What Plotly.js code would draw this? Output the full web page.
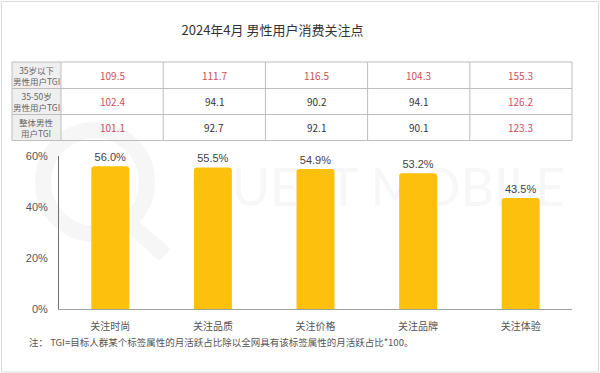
<!DOCTYPE html>
<html>
<head>
<meta charset="utf-8">
<script src="https://cdn.plot.ly/plotly-3.0.1.min.js"></script>
<style>
html,body{margin:0;padding:0;background:#fff;}
#chart{width:600px;height:373px;}
</style>
</head>
<body>
<div id="chart"></div>
<script>
// ---- data ----
var categories = ['关注时尚', '关注品质', '关注价格', '关注品牌', '关注体验'];
var shareValues = [56.0, 55.5, 54.9, 53.2, 43.5];
var rowLabels = ['35岁以下<br>男性用户TGI', '35-50岁<br>男性用户TGI', '整体男性<br>用户TGI'];
var tgiUnder35 = [109.5, 111.7, 116.5, 104.3, 155.3];
var tgi35to50 = [102.4, 94.1, 90.2, 94.1, 126.2];
var tgiAll = [101.1, 92.7, 92.1, 90.1, 123.3];
var yTickVals = [0, 20, 40, 60];
var yTickText = ['0%', '20%', '40%', '60%'];
var titleText = '2024年4月 男性用户消费关注点';
var noteText = '注： TGI=目标人群某个标签属性的月活跃占比除以全网具有该标签属性的月活跃占比*100。';

// ---- layout helpers (pixel -> paper) ----
var W = 600, H = 373;
var mL = 59, mR = 28, mT = 156, mB = 64;
var pw = W - mL - mR, ph = H - mT - mB;
function px(x) { return (x - mL) / pw; }
function py(y) { return (H - mB - y) / ph; }

var font = '"Noto Sans CJK SC", "Noto Sans", sans-serif';
var shapes = [];
var annotations = [];

// outer frame
shapes.push({type:'rect', xref:'paper', yref:'paper', x0:px(1.5), x1:px(598.5), y0:py(372), y1:py(1.5),
  line:{color:'#DADADA', width:1}, layer:'below'});

// watermark (drawn below the bars)
var wmSvg = '<svg xmlns="http://www.w3.org/2000/svg" width="560" height="140" viewBox="0 0 560 140">' +
  '<circle cx="70" cy="62" r="52" fill="none" stroke="#F6F6F6" stroke-width="16"/>' +
  '<path d="M100 100 L140 135" stroke="#F6F6F6" stroke-width="16"/>' +
  '<text x="165" y="86" font-family="Lato, sans-serif" font-size="52" fill="#F7F7F7">QUEST MOBILE</text>' +
  '</svg>';
var wmImages = [{source:'data:image/svg+xml;charset=utf-8,' + encodeURIComponent(wmSvg),
  xref:'paper', yref:'paper', x:px(25), y:py(120), sizex:560/pw, sizey:140/ph,
  xanchor:'left', yanchor:'top', sizing:'stretch', layer:'below'}];

// table
var tblLeft = 12, tblRight = 572, labelRight = 61;
var rowEdges = [62, 88.5, 114.5, 140.5];
var tableRows = [tgiUnder35, tgi35to50, tgiAll];
var colW = (tblRight - labelRight) / categories.length;
shapes.push({type:'rect', xref:'paper', yref:'paper', x0:px(tblLeft), x1:px(labelRight),
  y0:py(rowEdges[3]), y1:py(rowEdges[0]), fillcolor:'#EFEFEF', line:{width:0}, layer:'below'});
rowEdges.forEach(function(e){
  shapes.push({type:'line', xref:'paper', yref:'paper', x0:px(tblLeft), x1:px(tblRight), y0:py(e), y1:py(e),
    line:{color:'#BDBDBD', width:1}});
});
var vEdges = [tblLeft, labelRight];
for (var c = 1; c <= categories.length; c++) vEdges.push(labelRight + colW * c);
vEdges.forEach(function(e){
  shapes.push({type:'line', xref:'paper', yref:'paper', x0:px(e), x1:px(e), y0:py(rowEdges[0]), y1:py(rowEdges[3]),
    line:{color:'#BDBDBD', width:1}});
});
tableRows.forEach(function(row, r){
  var yc = (rowEdges[r] + rowEdges[r+1]) / 2;
  annotations.push({xref:'paper', yref:'paper', x:px((tblLeft+labelRight)/2), y:py(yc), text:rowLabels[r],
    showarrow:false, font:{family:font, size:8.5, color:'#666'}, xanchor:'center', yanchor:'middle'});
  row.forEach(function(v, i){
    annotations.push({xref:'paper', yref:'paper', x:px(labelRight + colW*(i+0.5)), y:py(yc), text:v.toFixed(1),
      showarrow:false, font:{family:font, size:10, color: v > 100 ? '#C8505C' : '#333'},
      xanchor:'center', yanchor:'middle'});
  });
});

// note
annotations.push({xref:'paper', yref:'paper', x:px(27), y:py(342), text:noteText, showarrow:false,
  font:{family:font, size:9.5, color:'#555'}, xanchor:'left', yanchor:'middle'});

var trace = {
  type:'bar', x:categories, y:shareValues,
  marker:{color:'#FDC10D', line:{width:0}},
  text:shareValues.map(function(v){return v.toFixed(1)+'%';}),
  textposition:'outside', cliponaxis:false,
  textfont:{family:'Liberation Sans, Arial, sans-serif', size:11, color:'#444'},
  hoverinfo:'none'
};

var layout = {
  width:W, height:H,
  margin:{l:mL, r:mR, t:mT, b:mB, pad:0},
  paper_bgcolor:'#fff', plot_bgcolor:'rgba(0,0,0,0)',
  title:{text:titleText, x:px(292), xanchor:'center', y:1-30/H, yanchor:'middle',
    font:{family:font, size:13, color:'#333'}},
  bargap:0.63,
  barcornerradius:3,
  showlegend:false,
  xaxis:{showgrid:false, zeroline:false, showline:true, linecolor:'#A0A0A0', linewidth:1,
    ticks:'', ticklabelstandoff:8,
    tickfont:{family:font, size:10, color:'#555'}, fixedrange:true},
  yaxis:{range:[0,60], showgrid:false, zeroline:false, showline:true, linecolor:'#707070', linewidth:1,
    tickvals:yTickVals, ticktext:yTickText, ticks:'', ticklabelstandoff:8,
    tickfont:{family:'Liberation Sans, Arial, sans-serif', size:11, color:'#555'}, fixedrange:true},
  images:wmImages,
  shapes:shapes,
  annotations:annotations
};

Plotly.newPlot('chart', [trace], layout, {staticPlot:true, displayModeBar:false});
</script>
</body>
</html>
